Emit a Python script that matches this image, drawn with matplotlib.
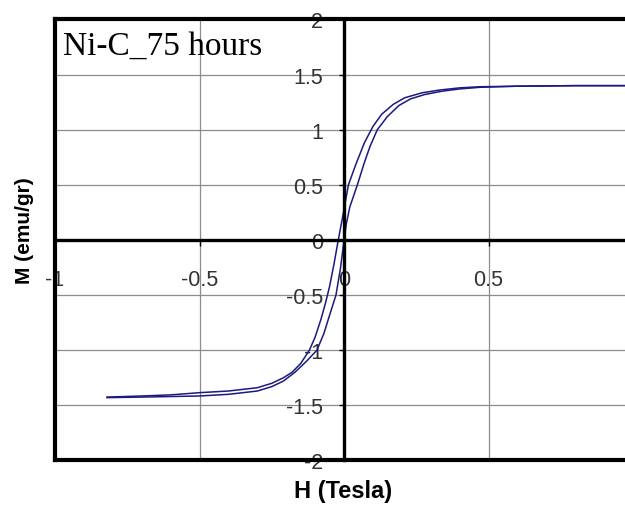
import matplotlib.pyplot as plt

plt.rcParams['font.family'] = ['Liberation Sans', 'DejaVu Sans']

# descending branch (from +H down to -H)
H_down = [1.00, 0.80, 0.60, 0.47, 0.40, 0.33, 0.27, 0.21, 0.17, 0.13, 0.10,
          0.07, 0.04, 0.015, 0.0, -0.01, -0.02, -0.035, -0.05, -0.065, -0.08,
          -0.10, -0.12, -0.15, -0.18, -0.21, -0.25, -0.30, -0.40, -0.50,
          -0.60, -0.70, -0.82]
M_down = [1.40, 1.40, 1.395, 1.39, 1.38, 1.36, 1.335, 1.29, 1.23, 1.14, 1.03,
          0.88, 0.68, 0.50, 0.28, 0.14, 0.0, -0.22, -0.42, -0.58, -0.72,
          -0.88, -1.00, -1.12, -1.20, -1.25, -1.30, -1.34, -1.37, -1.385,
          -1.405, -1.415, -1.425]

# ascending branch (from -H back up to +H)
H_up = [-0.82, -0.70, -0.60, -0.50, -0.40, -0.30, -0.25, -0.21, -0.17, -0.13,
        -0.094, -0.07, -0.045, -0.028, -0.012, 0.0, 0.008, 0.02, 0.046, 0.07,
        0.09, 0.115, 0.15, 0.19, 0.23, 0.28, 0.34, 0.40, 0.47, 0.60, 0.80, 1.00]
M_up = [-1.43, -1.425, -1.42, -1.415, -1.40, -1.37, -1.33, -1.28, -1.20, -1.10,
        -1.00, -0.85, -0.64, -0.50, -0.25, 0.0, 0.15, 0.30, 0.50, 0.70,
        0.85, 1.00, 1.12, 1.22, 1.28, 1.32, 1.35, 1.37, 1.385, 1.395, 1.40, 1.40]

x_ticks = [-1, -0.5, 0, 0.5, 1]
x_labels = ['-1', '-0.5', '0', '0.5', '1']
y_ticks = [-2, -1.5, -1, -0.5, 0, 0.5, 1, 1.5, 2]
y_labels = ['-2', '-1.5', '-1', '-0.5', '0', '0.5', '1', '1.5', '2']

fig = plt.figure(figsize=(6.25, 5.06), dpi=100)
ax = fig.add_axes([0.088, 0.088, 0.925, 0.8715])
ax.set_xlim(-1, 1)
ax.set_ylim(-2, 2)
ax.set_axisbelow(True)
ax.grid(True, color='#8c8c8c', lw=0.9)

ax.set_xticks(x_ticks)
ax.set_xticklabels(x_labels)
ax.set_yticks(y_ticks)
ax.set_yticklabels(y_labels)

# axes crossing at the origin, frame drawn around
ax.spines['left'].set_position(('data', 0))
ax.spines['bottom'].set_position(('data', 0))
ax.spines['left'].set_linewidth(2.4)
ax.spines['bottom'].set_linewidth(2.4)
ax.spines['top'].set_linewidth(3)
ax.spines['right'].set_linewidth(3)
ax.axvline(-1, color='k', lw=3, clip_on=False)
ax.axhline(-2, color='k', lw=3, clip_on=False)

ax.tick_params(axis='y', direction='out', length=3.6, width=1, pad=11.5,
               labelsize=15.5, labelcolor='#333333')
ax.tick_params(axis='x', direction='out', length=4.3, width=1, pad=16.5,
               labelsize=15.5, labelcolor='#333333')

ax.plot(H_down, M_down, color='#1a1a80', lw=1.1)
ax.plot(H_up, M_up, color='#1a1a80', lw=1.1)

ax.text(0.014, 0.922, 'Ni-C_75 hours', transform=ax.transAxes,
        family='Liberation Serif', fontsize=24, va='baseline', ha='left')

fig.text(343 / 625, 1 - 492 / 506, 'H (Tesla)', ha='center', va='center',
         fontsize=17, fontweight='bold')
fig.text(25 / 625, 1 - 231 / 506, 'M (emu/gr)', ha='center', va='center',
         rotation=90, fontsize=15, fontweight='bold')

fig.savefig('out.png', dpi=100)
